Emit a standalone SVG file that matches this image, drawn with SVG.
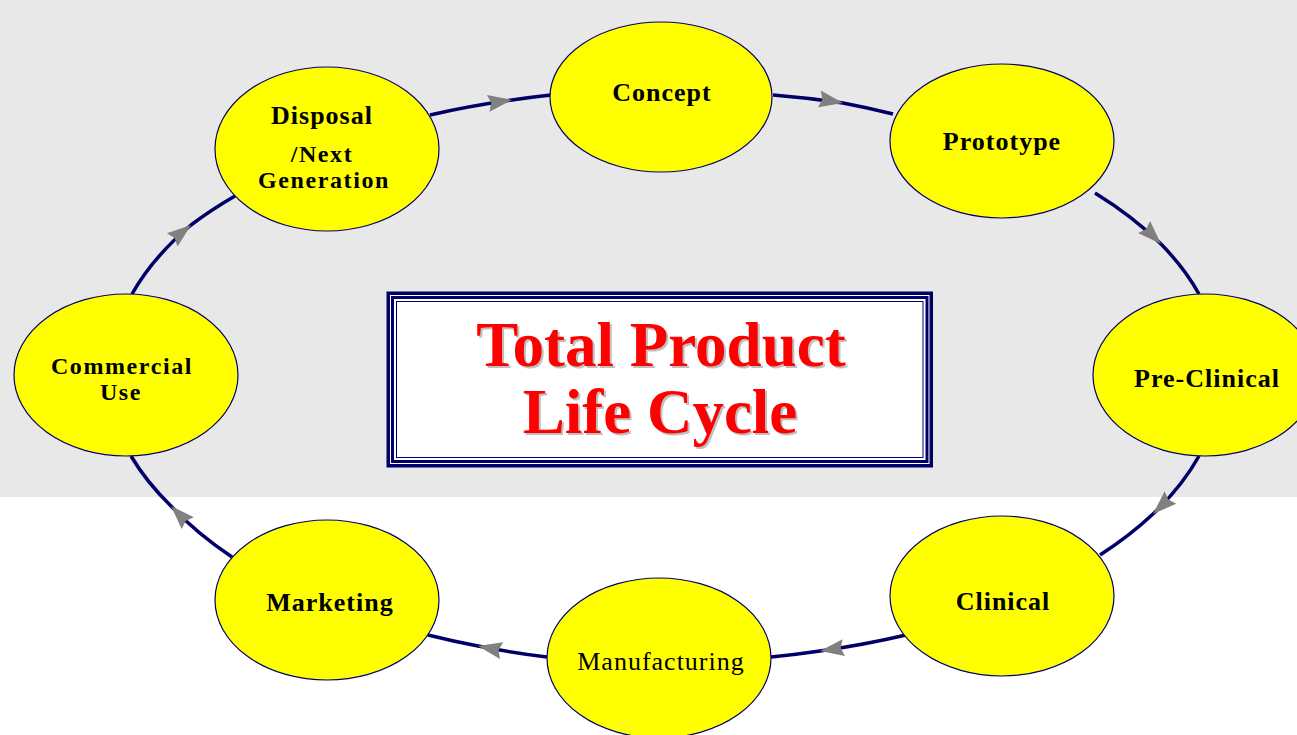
<svg xmlns="http://www.w3.org/2000/svg" width="1297" height="735" viewBox="0 0 1297 735">
<defs>
<style>
.node ellipse{fill:#ffff00;stroke:#000068;stroke-width:1.2}
.lbl{font-family:"Liberation Serif","Times New Roman",serif;font-size:26px;font-weight:bold;letter-spacing:1px;text-anchor:middle;fill:#000}
.sm{font-size:24px;letter-spacing:1.6px}
.reg{font-weight:normal}
.conn path{fill:none;stroke:#000068;stroke-width:3.5;marker-mid:url(#arr)}
.title{font-family:"Liberation Serif","Times New Roman",serif;font-size:63px;font-weight:bold;text-anchor:middle}
</style>
<marker id="arr" markerUnits="userSpaceOnUse" markerWidth="25" markerHeight="19" refX="24" refY="9.5" orient="auto" viewBox="0 0 25 19">
<path d="M0,1 L24,9.5 L0,18 L3,9.5 z" fill="#808080"/>
</marker>
</defs>
<rect x="0" y="0" width="1297" height="497" fill="#e8e8e8"/>
<rect x="0" y="497" width="1297" height="238" fill="#ffffff"/>

<g id="connectors" class="conn">
<path d="M430,115 A560,287 0 0 1 512,100 A560,287 0 0 1 551,95"/>
<path d="M773,95 A560,287 0 0 1 843,103 A560,287 0 0 1 893,114"/>
<path d="M1095,193 A560,287 0 0 1 1161,244 A560,287 0 0 1 1199,294"/>
<path d="M1199,456 A560,287 0 0 1 1153,514 A560,287 0 0 1 1100,555"/>
<path d="M906,635 A560,287 0 0 1 820,651 A560,287 0 0 1 771,657"/>
<path d="M547,657 A560,287 0 0 1 478,646 A560,287 0 0 1 428,635"/>
<path d="M232,557 A560,287 0 0 1 171,506 A560,287 0 0 1 131,456"/>
<path d="M132,294 A560,287 0 0 1 191,225 A560,287 0 0 1 235,196"/>
</g>

<g id="title-box">
<rect x="386.5" y="291.5" width="546.5" height="176" fill="#000068"/>
<rect x="390" y="295" width="539.5" height="169" fill="#ffffff"/>
<rect x="391" y="296" width="537.5" height="167" fill="#000068"/>
<rect x="394" y="299" width="531.5" height="161" fill="#ffffff"/>
<rect x="396.5" y="301.5" width="526.5" height="156" fill="#ffffff" stroke="#000068" stroke-width="1"/>
<text class="title" x="663" y="368" fill="#c0c0c0">Total Product</text>
<text class="title" x="661" y="366" fill="#ff0000">Total Product</text>
<text class="title" x="662" y="435" fill="#c0c0c0">Life Cycle</text>
<text class="title" x="660" y="433" fill="#ff0000">Life Cycle</text>
</g>

<g id="concept" class="node">
<ellipse cx="661" cy="97" rx="111" ry="75"/>
<text class="lbl" x="662" y="101">Concept</text>
</g>
<g id="prototype" class="node">
<ellipse cx="1002" cy="141" rx="112" ry="77"/>
<text class="lbl" x="1002" y="150">Prototype</text>
</g>
<g id="pre-clinical" class="node">
<ellipse cx="1205" cy="375" rx="112" ry="81"/>
<text class="lbl" x="1207" y="387">Pre-Clinical</text>
</g>
<g id="clinical" class="node">
<ellipse cx="1002" cy="596" rx="112" ry="80"/>
<text class="lbl" x="1003" y="610">Clinical</text>
</g>
<g id="manufacturing" class="node">
<ellipse cx="659" cy="658" rx="112" ry="80"/>
<text class="lbl reg" x="661" y="670">Manufacturing</text>
</g>
<g id="marketing" class="node">
<ellipse cx="327" cy="600" rx="112" ry="80"/>
<text class="lbl" x="330" y="611">Marketing</text>
</g>
<g id="commercial-use" class="node">
<ellipse cx="126" cy="375" rx="112" ry="81"/>
<text class="lbl sm" x="122" y="374">Commercial</text>
<text class="lbl sm" x="121" y="400">Use</text>
</g>
<g id="disposal" class="node">
<ellipse cx="327" cy="149" rx="112" ry="82"/>
<text class="lbl" x="322" y="124">Disposal</text>
<text class="lbl sm" x="322" y="162">/Next</text>
<text class="lbl sm" x="324" y="188">Generation</text>
</g>
</svg>
